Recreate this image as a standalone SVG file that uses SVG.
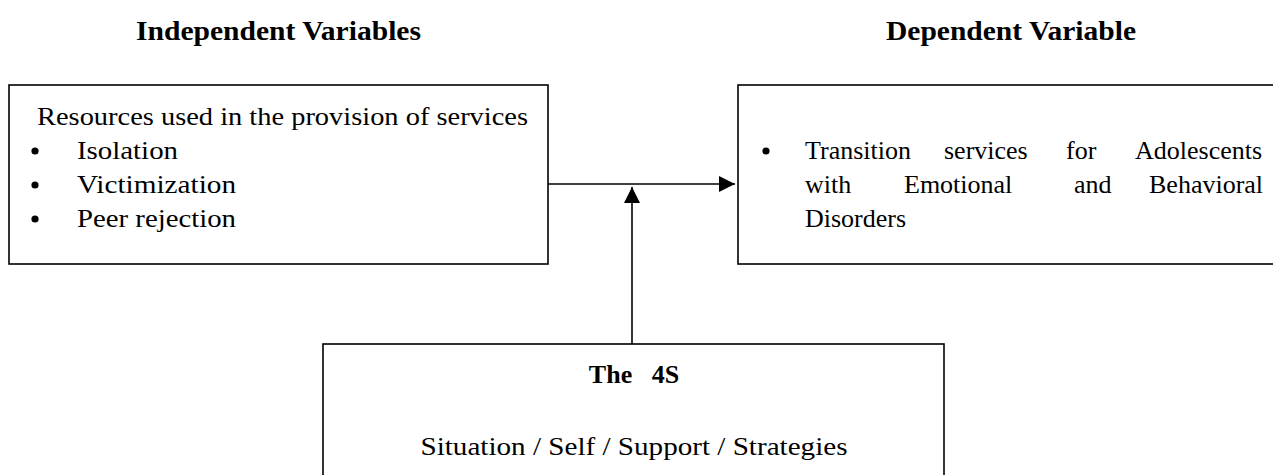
<svg xmlns="http://www.w3.org/2000/svg" width="1273" height="475" viewBox="0 0 1273 475">
<style>
.box{fill:#fff;stroke:#000;stroke-width:1.6}
.h{font-family:"Liberation Serif",serif;font-weight:bold;font-size:27px;fill:#000}
.t{font-family:"Liberation Serif",serif;font-size:26px;fill:#000}
.tb{font-family:"Liberation Serif",serif;font-weight:bold;font-size:26px;fill:#000}
.bul{fill:#000}
.ln{stroke:#000;stroke-width:1.6;fill:none}
</style>
<defs>
<marker id="ah" markerUnits="userSpaceOnUse" markerWidth="17" markerHeight="16" refX="16" refY="8" orient="auto">
<path d="M0,0 L16,8 L0,16 z" fill="#000"/>
</marker>
</defs>
<rect width="1273" height="475" fill="#fff"/>
<g id="headings">
<text class="h" x="136" y="40" textLength="285" lengthAdjust="spacingAndGlyphs">Independent Variables</text>
<text class="h" x="886" y="40" textLength="250" lengthAdjust="spacingAndGlyphs">Dependent Variable</text>
</g>
<g id="independent">
<rect class="box" x="9" y="85" width="539" height="179"/>
<text class="t" x="37" y="125" textLength="491" lengthAdjust="spacingAndGlyphs">Resources used in the provision of services</text>
<circle class="bul" cx="35" cy="151" r="3.6"/>
<circle class="bul" cx="35" cy="185" r="3.6"/>
<circle class="bul" cx="35" cy="219" r="3.6"/>
<text class="t" x="77" y="159" textLength="101" lengthAdjust="spacingAndGlyphs">Isolation</text>
<text class="t" x="77" y="193" textLength="159" lengthAdjust="spacingAndGlyphs">Victimization</text>
<text class="t" x="77" y="227" textLength="159" lengthAdjust="spacingAndGlyphs">Peer rejection</text>
</g>
<g id="dependent">
<rect class="box" x="738" y="85" width="540" height="179"/>
<circle class="bul" cx="766" cy="151" r="3.6"/>
<text class="t" y="159"><tspan x="805">Transition</tspan><tspan x="944">services</tspan><tspan x="1066">for</tspan><tspan x="1135">Adolescents</tspan></text>
<text class="t" y="193"><tspan x="805">with</tspan><tspan x="904">Emotional</tspan><tspan x="1074">and</tspan><tspan x="1149">Behavioral</tspan></text>
<text class="t" x="805" y="227">Disorders</text>
</g>
<g id="fourS">
<rect class="box" x="323" y="344" width="621" height="140"/>
<text class="tb" x="634" y="383" text-anchor="middle" xml:space="preserve">The   4S</text>
<text class="t" x="634" y="455" text-anchor="middle" textLength="427" lengthAdjust="spacingAndGlyphs">Situation / Self / Support / Strategies</text>
</g>
<g id="connectors">
<line class="ln" x1="548" y1="184" x2="735" y2="184" marker-end="url(#ah)"/>
<line class="ln" x1="632" y1="344" x2="632" y2="187" marker-end="url(#ah)"/>
</g>
</svg>
